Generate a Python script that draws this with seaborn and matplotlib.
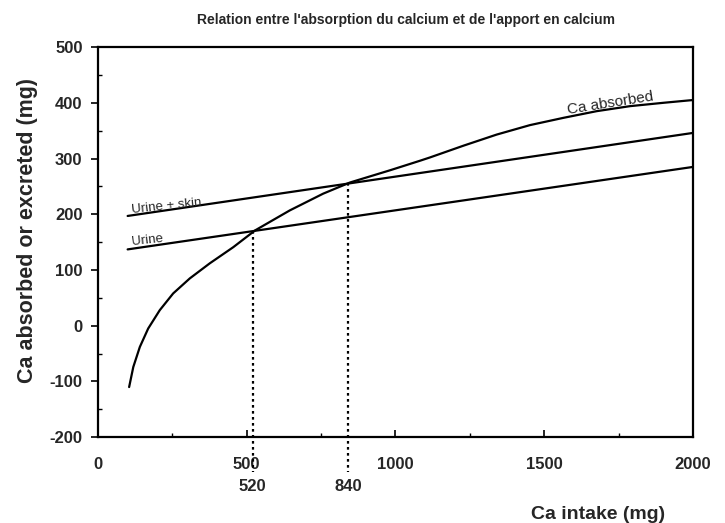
import matplotlib
matplotlib.use("Agg")
import matplotlib.pyplot as plt
import seaborn as sns
import pandas as pd

sns.set_theme(style="white")
plt.rcParams['font.family'] = ['Liberation Sans', 'DejaVu Sans']
plt.rcParams['axes.unicode_minus'] = False

# Data
abs_x = [105, 119, 141, 169, 208, 253, 309, 376, 455, 528, 645, 757, 847,
         982, 1082, 1116, 1228, 1340, 1452, 1564, 1676, 1788, 1900, 2000]
abs_y = [-110, -74, -38, -5, 28, 58, 85, 112, 141, 171, 207, 237, 257,
         279, 296, 302, 323, 343, 360, 373, 385, 394, 400, 405]
skin_x = [100, 2000]
skin_y = [197, 346]
urine_x = [100, 2000]
urine_y = [137, 285]
cross_x = [520, 840]
cross_y = [170, 257]
xticks = [0, 500, 1000, 1500, 2000]
yticks = [-200, -100, 0, 100, 200, 300, 400, 500]

df = pd.concat([
    pd.DataFrame({"x": abs_x, "y": abs_y, "s": "Ca absorbed"}),
    pd.DataFrame({"x": skin_x, "y": skin_y, "s": "Urine + skin"}),
    pd.DataFrame({"x": urine_x, "y": urine_y, "s": "Urine"}),
])

fig = plt.figure(figsize=(7.25, 5.23), dpi=100)
ax = fig.add_axes([0.135, 0.164, 0.821, 0.746])
sns.lineplot(data=df, x="x", y="y", hue="s", palette=["black"] * 3,
             legend=False, ax=ax, lw=1.6, sort=True,
             solid_joinstyle="round", solid_capstyle="round")

for cx, cy in zip(cross_x, cross_y):
    ax.plot([cx, cx], [cy, -262], ls=(0, (1.2, 1.5)), color="black", lw=1.6,
            clip_on=False)

ax.set_xlim(0, 2000)
ax.set_ylim(-200, 500)
ax.set_xticks(xticks)
ax.set_yticks(yticks)
ax.set_xticks(range(250, 2000, 250), minor=True)
ax.set_yticks(range(-150, 500, 100), minor=True)
ax.tick_params(axis="both", which="major", labelsize=12, color="black",
               length=5, width=1.2, direction="out", bottom=True, left=True)
ax.tick_params(axis="x", which="major", direction="in", pad=14)
ax.tick_params(axis="y", which="major", pad=6)
ax.tick_params(axis="both", which="minor", length=3, width=1, color="black",
               direction="in", bottom=True, left=True)
for lab in ax.get_xticklabels() + ax.get_yticklabels():
    lab.set_fontweight("bold")
for sp in ax.spines.values():
    sp.set_color("black")
    sp.set_linewidth(1.6)

for cx in cross_x:
    ax.text(cx, -275, str(cx), ha="center", va="top", fontsize=12,
            fontweight="bold", clip_on=False)

ax.set_xlabel("Ca intake (mg)", fontsize=14, fontweight="bold")
ax.xaxis.set_label_coords(0.84, -0.175)
ax.set_ylabel("Ca absorbed or excreted (mg)", fontsize=15.5, fontweight="bold")
ax.yaxis.set_label_coords(-0.10, 0.53)

ax.text(112, 197, "Urine + skin", fontsize=9.5, rotation=6, ha="left", va="bottom")
ax.text(112, 140, "Urine", fontsize=9.5, rotation=6, ha="left", va="bottom")
ax.text(1575, 375, "Ca absorbed", fontsize=11, rotation=9, ha="left", va="bottom")

fig.suptitle("Relation entre l'absorption du calcium et de l'apport en calcium",
             x=0.56, y=0.975, fontsize=10, fontweight="bold")

fig.savefig("out.png", dpi=100)
